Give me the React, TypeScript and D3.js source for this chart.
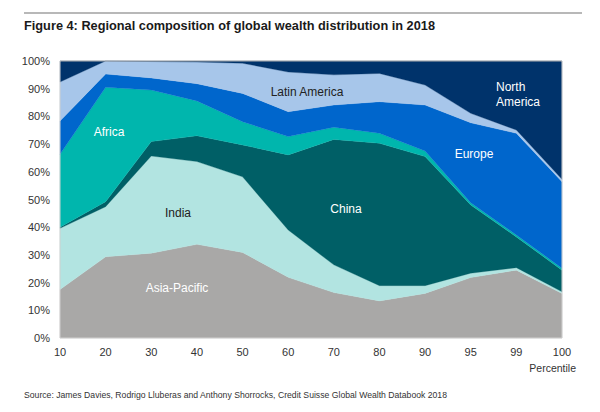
import React from "react";
import * as d3 from "d3";

const percentiles = ["10", "20", "30", "40", "50", "60", "70", "80", "90", "95", "99", "100"];
const regions = ["Asia-Pacific", "India", "China", "Africa", "Europe", "Latin America", "North America"];
const asiaPacific = [17.5, 29.3, 30.6, 33.8, 30.9, 21.9, 16.4, 13.4, 16.1, 21.8, 24.5, 16.1];
const india = [22.1, 18.1, 35.1, 29.9, 27.3, 17.1, 10.0, 5.5, 2.8, 1.6, 0.9, 0.6];
const china = [0.4, 1.8, 5.2, 9.3, 11.5, 27.1, 45.3, 51.4, 46.6, 24.6, 11.1, 7.8];
const africa = [26.3, 41.3, 18.6, 12.6, 8.4, 6.6, 4.4, 3.6, 2.0, 0.8, 0.7, 0.7];
const europe = [12.0, 4.8, 4.4, 6.2, 10.2, 9.0, 8.0, 11.4, 16.6, 28.9, 36.7, 31.2];
const latinAmerica = [14.1, 4.7, 5.9, 7.8, 10.9, 14.3, 10.9, 10.2, 7.2, 3.4, 1.2, 0.9];
const northAmerica = [7.6, 0, 0.2, 0.4, 0.8, 4.0, 5.0, 4.5, 8.7, 18.9, 24.9, 42.7];
const yTicks = [0, 10, 20, 30, 40, 50, 60, 70, 80, 90, 100];

const colors = ["#a9a8a7", "#b2e4e1", "#005f66", "#00b6ad", "#0066cc", "#a7c6ea", "#00336b"];

const font = "'Liberation Sans', Arial, Helvetica, sans-serif";

export default function App() {
  const W = 600, H = 412;
  const left = 60, right = 562, top = 61, bottom = 338;
  const x = d3.scalePoint<string>().domain(percentiles).range([left, right]);
  const y = d3.scaleLinear().domain([0, 100]).range([bottom, top]);

  const series = [asiaPacific, india, china, africa, europe, latinAmerica, northAmerica];
  const table = percentiles.map((p, i) => {
    const row: any = { p };
    regions.forEach((r, k) => (row[r] = series[k][i]));
    return row;
  });
  const stacked = d3.stack<any>().keys(regions)(table);
  const area = d3
    .area<any>()
    .x((d) => x(d.data.p) as number)
    .y0((d) => y(d[0]))
    .y1((d) => y(Math.min(100, d[1])));

  const labels = [
    { t: "Africa", x: 109, y: 136, c: "#ffffff" },
    { t: "India", x: 178, y: 217, c: "#222222" },
    { t: "Asia-Pacific", x: 177, y: 292, c: "#ffffff" },
    { t: "Latin America", x: 307, y: 96, c: "#222222" },
    { t: "China", x: 346, y: 213, c: "#ffffff" },
    { t: "Europe", x: 474, y: 158, c: "#ffffff" },
  ];

  return (
    <svg width={W} height={H} style={{ position: "absolute", left: 0, top: 0, background: "#fff" }} fontFamily={font}>
      <line x1={24} x2={582} y1={13} y2={13} stroke="#b8b8b8" strokeWidth={2} />
      <text x={24} y={30} fontSize={13.5} fontWeight="bold" fill="#1a1a1a" textLength={411} lengthAdjust="spacingAndGlyphs">
        Figure 4: Regional composition of global wealth distribution in 2018
      </text>
      {stacked.map((s, k) => (
        <path key={regions[k]} d={area(s) || ""} fill={colors[k]} stroke={colors[k]} strokeWidth={0.3} />
      ))}
      <line x1={left} x2={right} y1={top} y2={top} stroke="#b0b0b0" strokeWidth={1} />
      <line x1={right} x2={right} y1={top} y2={bottom} stroke="#d0d0d0" strokeWidth={1} />
      <line x1={left} x2={left} y1={top} y2={bottom} stroke="#d0d0d0" strokeWidth={1} />
      <line x1={left} x2={right} y1={bottom} y2={bottom} stroke="#d0d0d0" strokeWidth={1} />
      {yTicks.map((t) => (
        <text key={t} x={50} y={y(t) + 4} fontSize={11} textAnchor="end" fill="#333">
          {t}%
        </text>
      ))}
      {percentiles.map((p) => (
        <text key={p} x={x(p)} y={356} fontSize={11} textAnchor="middle" fill="#333">
          {p}
        </text>
      ))}
      <text x={576} y={372} fontSize={10.5} textAnchor="end" fill="#333">Percentile</text>
      {labels.map((l) => (
        <text key={l.t} x={l.x} y={l.y} fontSize={12} textAnchor="middle" fill={l.c}>
          {l.t}
        </text>
      ))}
      <text x={496} y={91} fontSize={12} fill="#fff">North</text>
      <text x={496} y={106} fontSize={12} fill="#fff">America</text>
      <text x={24} y={398} fontSize={9} fill="#333" textLength={423} lengthAdjust="spacingAndGlyphs">
        Source: James Davies, Rodrigo Lluberas and Anthony Shorrocks, Credit Suisse Global Wealth Databook 2018
      </text>
    </svg>
  );
}
